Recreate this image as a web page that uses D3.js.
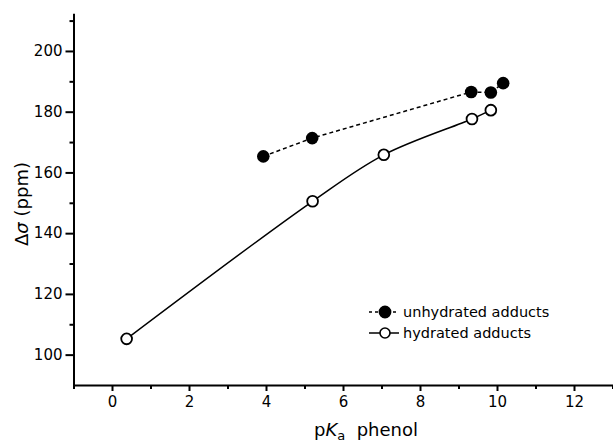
<!DOCTYPE html>
<html>
<head>
<meta charset="utf-8">
<script src="https://cdn.jsdelivr.net/npm/d3@7"></script>
<style>
  body { margin: 0; background: #fff; }
  text { font-family: "DejaVu Sans", sans-serif; fill: #000; }
</style>
</head>
<body>
<div id="wrapper"></div>
<script>
// data: pKa of the phenol vs. delta sigma (ppm)
const unhydratedPKa = [3.93, 5.2, 9.33, 9.84, 10.16]
const unhydratedShift = [165.3, 171.3, 186.5, 186.3, 189.4]
const hydratedPKa = [0.38, 5.21, 7.06, 9.35, 9.84]
const hydratedShift = [105.2, 150.5, 165.8, 177.6, 180.5]

const xMajorTicks = [0, 2, 4, 6, 8, 10, 12]
const xMinorTicks = [-1, 1, 3, 5, 7, 9, 11, 13]
const yMajorTicks = [100, 120, 140, 160, 180, 200]
const yMinorTicks = [110, 130, 150, 170, 190, 210]

const legendLabels = ["unhydrated adducts", "hydrated adducts"]

function drawChart() {
  const unhydrated = unhydratedPKa.map((x, i) => ({ x, y: unhydratedShift[i] }))
  const hydrated = hydratedPKa.map((x, i) => ({ x, y: hydratedShift[i] }))
  const xAccessor = d => d.x
  const yAccessor = d => d.y

  let dimensions = {
    width: 613,
    height: 443,
    margin: { top: 13.3, right: 0.5, bottom: 58, left: 73.5 },
  }
  dimensions.boundedWidth = dimensions.width
      - dimensions.margin.left
      - dimensions.margin.right
  dimensions.boundedHeight = dimensions.height
      - dimensions.margin.top
      - dimensions.margin.bottom

  const wrapper = d3.select("#wrapper")
    .append("svg")
      .attr("width", dimensions.width)
      .attr("height", dimensions.height)

  const bounds = wrapper.append("g")
      .attr("transform", `translate(${dimensions.margin.left},${dimensions.margin.top})`)

  const xScale = d3.scaleLinear()
    .domain([-1, 13])
    .range([0, dimensions.boundedWidth])
  const yScale = d3.scaleLinear()
    .domain([90, 212.4])
    .range([dimensions.boundedHeight, 0])

  // axes: minor ticks first (no labels), then the labelled major ticks
  const xMinor = bounds.append("g")
      .attr("transform", `translate(0,${dimensions.boundedHeight})`)
      .call(d3.axisBottom(xScale).tickValues(xMinorTicks).tickSize(4).tickFormat(""))
  const xAxis = bounds.append("g")
      .attr("transform", `translate(0,${dimensions.boundedHeight})`)
      .call(d3.axisBottom(xScale).tickValues(xMajorTicks).tickSize(6).tickSizeOuter(0).tickPadding(5))
  const yMinor = bounds.append("g")
      .call(d3.axisLeft(yScale).tickValues(yMinorTicks).tickSize(4).tickFormat(""))
  const yAxis = bounds.append("g")
      .call(d3.axisLeft(yScale).tickValues(yMajorTicks).tickSize(8).tickSizeOuter(0).tickPadding(3))

  bounds.selectAll(".domain")
      .attr("stroke", "#000")
      .attr("stroke-width", 2)
  xMinor.select(".domain").remove()
  yMinor.select(".domain").remove()
  bounds.selectAll(".tick line")
      .attr("stroke", "#000")
      .attr("stroke-width", 2)
  bounds.selectAll(".tick text")
      .style("font-size", "15px")
      .style("font-family", "'DejaVu Sans', sans-serif")

  // axis titles
  const xTitle = wrapper.append("text")
      .attr("x", 366)
      .attr("y", 436)
      .attr("text-anchor", "middle")
      .style("font-size", "18px")
  xTitle.append("tspan").text("p")
  xTitle.append("tspan").style("font-style", "italic").text("K")
  xTitle.append("tspan").attr("dy", 4).style("font-size", "13px").text("a")
  xTitle.append("tspan").attr("dy", -4).text("\u00a0 phenol")

  const yTitle = wrapper.append("text")
      .attr("transform", "translate(28,204) rotate(-90)")
      .attr("text-anchor", "middle")
      .style("font-size", "18px")
  yTitle.append("tspan").text("\u0394")
  yTitle.append("tspan").style("font-style", "italic").text("\u03c3")
  yTitle.append("tspan").text(" (ppm)")

  // lines: dashed straight segments, solid smooth curve
  const unhydratedLine = d3.line()
    .x(d => xScale(xAccessor(d)))
    .y(d => yScale(yAccessor(d)))
  const hydratedLine = d3.line()
    .x(d => xScale(xAccessor(d)))
    .y(d => yScale(yAccessor(d)))
    .curve(d3.curveCatmullRom.alpha(0.5))

  bounds.append("path")
      .attr("d", unhydratedLine(unhydrated))
      .attr("fill", "none")
      .attr("stroke", "#000")
      .attr("stroke-width", 1.5)
      .attr("stroke-dasharray", "4,3")
  bounds.append("path")
      .attr("d", hydratedLine(hydrated))
      .attr("fill", "none")
      .attr("stroke", "#000")
      .attr("stroke-width", 1.5)

  // markers
  bounds.selectAll(".filled")
    .data(unhydrated)
    .join("circle")
      .attr("class", "filled")
      .attr("cx", d => xScale(xAccessor(d)))
      .attr("cy", d => yScale(yAccessor(d)))
      .attr("r", 6.3)
      .attr("fill", "#000")
  bounds.selectAll(".open")
    .data(hydrated)
    .join("circle")
      .attr("class", "open")
      .attr("cx", d => xScale(xAccessor(d)))
      .attr("cy", d => yScale(yAccessor(d)))
      .attr("r", 5.4)
      .attr("fill", "#fff")
      .attr("stroke", "#000")
      .attr("stroke-width", 1.8)

  // legend
  const legend = wrapper.append("g")
      .attr("transform", "translate(369,312)")
  const rows = legend.selectAll("g")
    .data(legendLabels)
    .join("g")
      .attr("transform", (d, i) => `translate(0,${i * 21})`)
  rows.append("line")
      .attr("x1", 0)
      .attr("x2", 30)
      .attr("stroke", "#000")
      .attr("stroke-width", 1.5)
      .attr("stroke-dasharray", (d, i) => i == 0 ? "3,3" : null)
  rows.append("circle")
      .attr("cx", 16)
      .attr("r", (d, i) => i == 0 ? 5.6 : 5)
      .attr("fill", (d, i) => i == 0 ? "#000" : "#fff")
      .attr("stroke", "#000")
      .attr("stroke-width", 1.6)
  rows.append("text")
      .attr("x", 34)
      .attr("dy", "0.35em")
      .style("font-size", "14.5px")
      .text(d => d)
}

drawChart()
</script>
</body>
</html>
